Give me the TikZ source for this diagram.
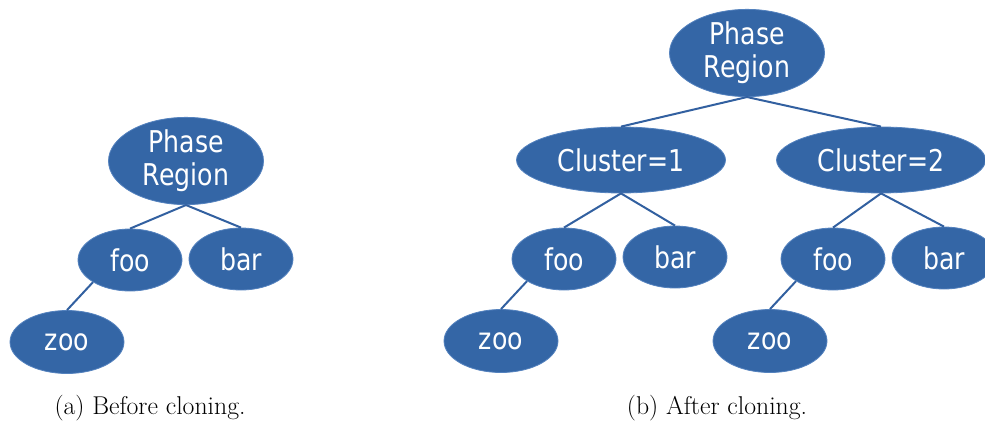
\documentclass[tikz,border=0pt]{standalone}
\usepackage{fontspec}
\newfontfamily\nodefont[FakeStretch=0.84]{DejaVu Sans}
\usetikzlibrary{shapes.geometric}
\definecolor{nodefill}{RGB}{52,102,166}
\definecolor{nodeedge}{RGB}{84,130,190}
\definecolor{linkcol}{RGB}{50,96,160}
\tikzset{
  blob/.style={ellipse, fill=nodefill, draw=nodeedge, line width=0.6pt, text=white,
    font=\nodefont\fontsize{22.5}{24.5}\selectfont, inner sep=0pt, align=center},
  phasebox/.style={blob, minimum width=116.25pt, minimum height=63pt},
  clusterbox/.style={blob, minimum width=156.75pt, minimum height=49.5pt},
  leafbox/.style={blob, minimum width=78pt, minimum height=46.5pt},
  zoobox/.style={blob, minimum width=85.5pt, minimum height=47.25pt},
  link/.style={draw=linkcol, line width=1.5pt},
  caption/.style={font=\fontsize{19.3}{22}\selectfont, inner sep=0pt}
}
\begin{document}
\begin{tikzpicture}[x=0.75pt,y=-0.75pt]
\useasboundingbox (0,0) rectangle (985,421);
% left panel
\node[phasebox] (pA) at (186,161) {Phase\\Region};
\node[leafbox] (fooA) at (130,260) {foo};
\node[leafbox] (barA) at (241,259) {bar};
\node[zoobox] (zooA) at (67,342) {zoo};
\draw[link] (pA.south) -- (fooA.north);
\draw[link] (pA.south) -- (barA.north);
\draw[link] (fooA.south west) -- (zooA.north);
\node[caption] (capA) at (150,408) {(a) Before cloning.};
% right panel
\node[phasebox] (pB) at (747,53) {Phase\\Region};
\node[clusterbox] (c1) at (621,160) {Cluster=1};
\node[clusterbox] (c2) at (881,160) {Cluster=2};
\node[leafbox] (foo1) at (564,259) {foo};
\node[leafbox] (bar1) at (675,257) {bar};
\node[zoobox] (zoo1) at (501,341) {zoo};
\node[leafbox] (foo2) at (833,259) {foo};
\node[leafbox] (bar2) at (944,258) {bar};
\node[zoobox] (zoo2) at (770,341) {zoo};
\draw[link] (pB.south) -- (c1.north);
\draw[link] (pB.south) -- (c2.north);
\draw[link] (c1.south) -- (foo1.north);
\draw[link] (c1.south) -- (bar1.north);
\draw[link] (foo1.south west) -- (zoo1.north);
\draw[link] (c2.south) -- (foo2.north);
\draw[link] (c2.south) -- (bar2.north);
\draw[link] (foo2.south west) -- (zoo2.north);
\node[caption] (capB) at (717,408) {(b) After cloning.};
\end{tikzpicture}
\end{document}
